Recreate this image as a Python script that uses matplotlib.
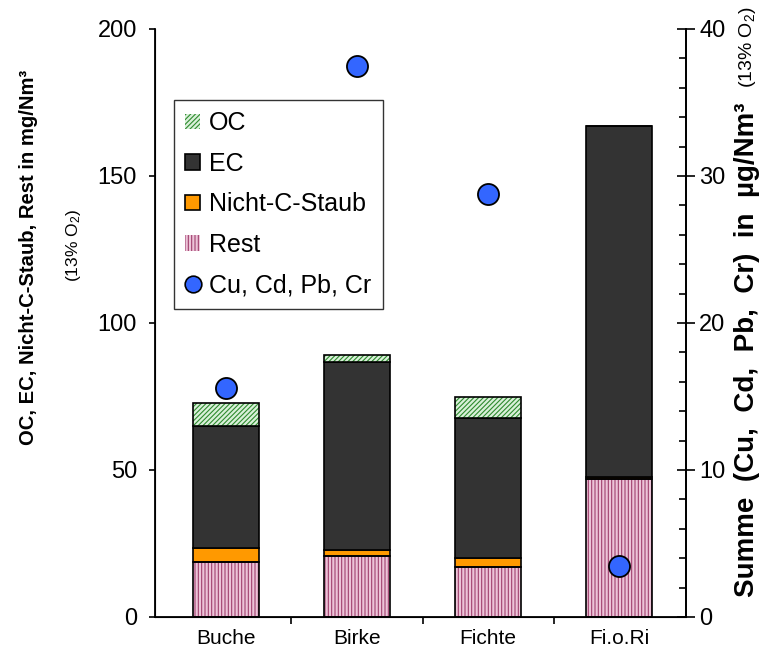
import numpy as np
import matplotlib.pyplot as plt
from matplotlib.patches import Patch
from matplotlib.lines import Line2D
from matplotlib.ticker import MultipleLocator

plt.rcParams['font.family'] = ['Liberation Sans', 'DejaVu Sans']
plt.rcParams['mathtext.default'] = 'regular'
plt.rcParams['hatch.linewidth'] = 0.8

# Staubzusammensetzung je Brennstoff (mg/Nm³, 13% O2)
fuels = ['Buche', 'Birke', 'Fichte', 'Fi.o.Ri']
rest = [18.8, 20.7, 16.9, 46.8]
nicht_c = [4.6, 2.0, 3.3, 0.9]
ec = [41.7, 64.0, 47.6, 119.3]
oc = [7.8, 2.4, 7.1, 0.0]
# Summe Schwermetalle (µg/Nm³, 13% O2)
metals = [15.6, 37.5, 28.8, 3.5]

c_oc_face, c_oc_hatch = '#d9f0d9', '#2e8b2e'
c_ec = '#333333'
c_nc = '#ff9900'
c_rest_face, c_rest_hatch = '#ecc4d8', '#a0406e'
c_dot = '#3366ff'

fig = plt.figure(figsize=(7.64, 6.61), dpi=100)
ax = fig.add_axes([0.203, 0.0666, 0.695, 0.8896])

x = np.arange(len(fuels))
w = 0.5


def stacked(vals, bottom, face, hatch=None, hatch_color=None):
    if hatch:
        ax.bar(x, vals, w, bottom=bottom, color=face, hatch=hatch,
               edgecolor=hatch_color, linewidth=0, zorder=2)
        ax.bar(x, vals, w, bottom=bottom, fill=False, edgecolor='black',
               linewidth=1.2, zorder=3)
    else:
        ax.bar(x, vals, w, bottom=bottom, color=face, edgecolor='black',
               linewidth=1.2, zorder=2)
    return bottom + np.array(vals)


base = np.zeros(len(fuels))
base = stacked(rest, base, c_rest_face, '|||||', c_rest_hatch)
base = stacked(nicht_c, base, c_nc)
base = stacked(ec, base, c_ec)
base = stacked(oc, base, c_oc_face, '///////', c_oc_hatch)

ax.set_xlim(-0.54, 3.51)
ax.set_ylim(0, 200)
ax.yaxis.set_major_locator(MultipleLocator(50))
ax.set_xticks(x)
ax.set_xticklabels(fuels, fontsize=15)
ax.tick_params(axis='x', length=0, pad=9)
# Trennstriche zwischen den Kategorien
ax.set_xticks([0.5, 1.5, 2.5], minor=True)
ax.tick_params(axis='x', which='minor', direction='out', length=5, width=1.2)
ax.tick_params(axis='y', direction='out', length=4, width=1.2, labelsize=17, pad=9)
ax.spines['top'].set_visible(False)
for s in ['left', 'bottom', 'right']:
    ax.spines[s].set_linewidth(1.3)

ax2 = ax.twinx()
ax2.set_ylim(0, 40)
ax2.yaxis.set_major_locator(MultipleLocator(10))
ax2.yaxis.set_minor_locator(MultipleLocator(2))
ax2.tick_params(axis='y', which='major', direction='inout', length=13, width=1.2,
                labelsize=17, pad=3)
ax2.tick_params(axis='y', which='minor', direction='in', length=5, width=1.2)
ax2.spines['top'].set_visible(False)
ax2.spines['right'].set_linewidth(1.3)
ax2.scatter(x, metals, s=230, color=c_dot, edgecolor='black', linewidth=1.3,
            zorder=5, clip_on=False)

# Achsenbeschriftungen
fig.text(0.037, 1 - 257 / 661, 'OC, EC, Nicht-C-Staub, Rest in mg/Nm³',
         rotation=90, ha='center', va='center', fontsize=14.6, fontweight='bold')
fig.text(0.096, 1 - 245 / 661, '(13% O$_2$)', rotation=90, ha='center',
         va='center', fontsize=12.5)
fig.text(0.978, 1 - 597 / 661, 'Summe  (Cu,  Cd,  Pb,  Cr)  in  µg/Nm³',
         rotation=90, ha='center', va='bottom', fontsize=20, fontweight='bold')
fig.text(0.978, 1 - 88 / 661, '(13% O$_2$)', rotation=90, ha='center',
         va='bottom', fontsize=14)

handles = [
    Patch(facecolor=c_oc_face, hatch='///////', edgecolor=c_oc_hatch, linewidth=0),
    Patch(facecolor=c_ec, edgecolor='black', linewidth=1.2),
    Patch(facecolor=c_nc, edgecolor='black', linewidth=1.2),
    Patch(facecolor=c_rest_face, hatch='|||||', edgecolor=c_rest_hatch, linewidth=0),
    Line2D([], [], marker='o', linestyle='none', markersize=12,
           markerfacecolor=c_dot, markeredgecolor='black', markeredgewidth=1.2),
]
labels = ['OC', 'EC', 'Nicht-C-Staub', 'Rest', 'Cu, Cd, Pb, Cr']
leg = ax2.legend(handles, labels, loc='upper left',
                 bbox_to_anchor=(0.036, 0.879), borderaxespad=0, fontsize=18,
                 frameon=True, fancybox=False, edgecolor='black',
                 handlelength=0.6, handleheight=0.6, handletextpad=0.35,
                 labelspacing=0.66, borderpad=0.45)
leg.get_frame().set_linewidth(1.0)
leg.set_zorder(10)

fig.savefig('out.png', dpi=100)
